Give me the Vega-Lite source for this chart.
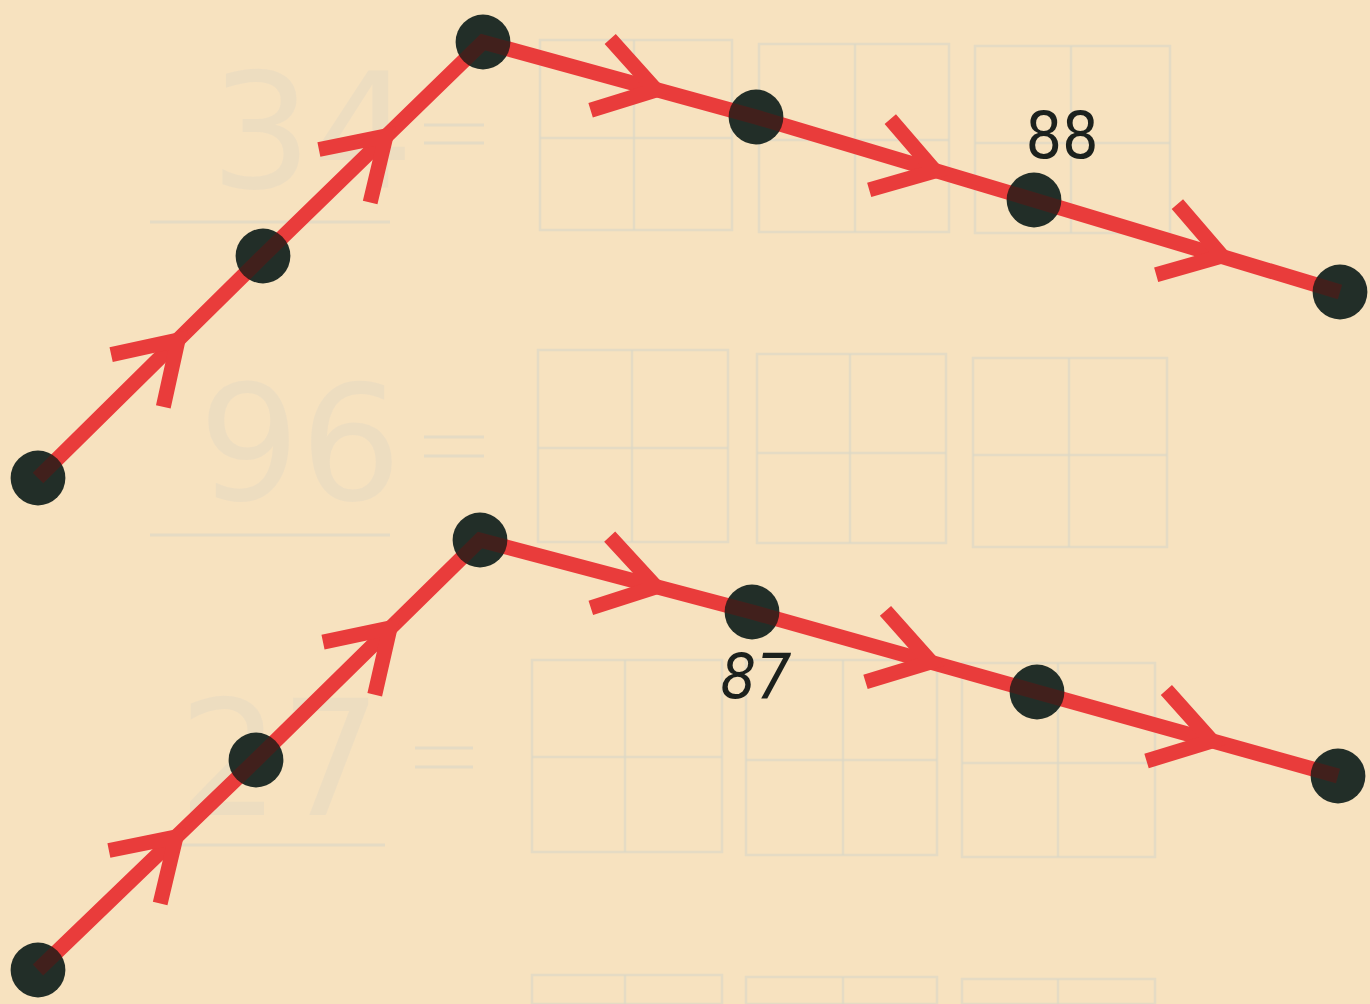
{
  "$schema": "https://vega.github.io/schema/vega-lite/v6.json",
  "width": 1370,
  "height": 1004,
  "autosize": {"type": "none"},
  "padding": 0,
  "background": "#f7e2bf",
  "config": {
    "view": {"stroke": null},
    "axis": {"domain": false}
  },
  "datasets": {
    "pts": [
      {"line": "top", "i": 0, "x": 38, "y": 478},
      {"line": "top", "i": 1, "x": 263, "y": 256},
      {"line": "top", "i": 2, "x": 483, "y": 42},
      {"line": "top", "i": 3, "x": 756, "y": 117},
      {"line": "top", "i": 4, "x": 1034, "y": 200},
      {"line": "top", "i": 5, "x": 1340, "y": 292},
      {"line": "bottom", "i": 0, "x": 38, "y": 970},
      {"line": "bottom", "i": 1, "x": 256, "y": 760},
      {"line": "bottom", "i": 2, "x": 480, "y": 540},
      {"line": "bottom", "i": 3, "x": 752, "y": 612},
      {"line": "bottom", "i": 4, "x": 1037, "y": 692},
      {"line": "bottom", "i": 5, "x": 1338, "y": 776}
    ],
    "arrows": [
      {"line": "top", "x": 178, "y": 340, "angle": 315},
      {"line": "top", "x": 386, "y": 136, "angle": 316},
      {"line": "top", "x": 656, "y": 90, "angle": 15.4},
      {"line": "top", "x": 935, "y": 171, "angle": 16.6},
      {"line": "top", "x": 1222, "y": 256, "angle": 16.7},
      {"line": "bottom", "x": 176, "y": 837, "angle": 316},
      {"line": "bottom", "x": 390, "y": 628, "angle": 315.5},
      {"line": "bottom", "x": 656, "y": 587, "angle": 14.8},
      {"line": "bottom", "x": 931, "y": 662, "angle": 15.7},
      {"line": "bottom", "x": 1212, "y": 741, "angle": 15.6}
    ],
    "label88": [
      {"text": "88", "x": 1062, "y": 158}
    ],
    "label87": [
      {"text": "87", "x": 756, "y": 698}
    ],
    "boxes": [
      {"x0": 540, "x1": 732, "y0": 40, "y1": 230, "xm": 634, "ym": 138},
      {"x0": 759, "x1": 949, "y0": 44, "y1": 232, "xm": 855, "ym": 140},
      {"x0": 975, "x1": 1170, "y0": 46, "y1": 233, "xm": 1071, "ym": 143},
      {"x0": 538, "x1": 728, "y0": 350, "y1": 542, "xm": 632, "ym": 448},
      {"x0": 757, "x1": 946, "y0": 354, "y1": 543, "xm": 850, "ym": 453},
      {"x0": 973, "x1": 1167, "y0": 358, "y1": 547, "xm": 1069, "ym": 455},
      {"x0": 532, "x1": 722, "y0": 660, "y1": 852, "xm": 625, "ym": 757},
      {"x0": 746, "x1": 937, "y0": 660, "y1": 855, "xm": 843, "ym": 760},
      {"x0": 962, "x1": 1155, "y0": 663, "y1": 857, "xm": 1058, "ym": 763}
    ],
    "partial": [
      {"x0": 532, "x1": 722, "y0": 975, "y1": 1004, "xm": 625},
      {"x0": 746, "x1": 937, "y0": 977, "y1": 1004, "xm": 843},
      {"x0": 962, "x1": 1155, "y0": 979, "y1": 1004, "xm": 1058}
    ],
    "strokes": [
      {"x0": 150, "x1": 390, "y0": 222, "y1": 222},
      {"x0": 150, "x1": 390, "y0": 535, "y1": 535},
      {"x0": 140, "x1": 385, "y0": 845, "y1": 845},
      {"x0": 424, "x1": 484, "y0": 125, "y1": 125},
      {"x0": 424, "x1": 484, "y0": 143, "y1": 143},
      {"x0": 424, "x1": 484, "y0": 437, "y1": 437},
      {"x0": 424, "x1": 484, "y0": 456, "y1": 456},
      {"x0": 415, "x1": 473, "y0": 748, "y1": 748},
      {"x0": 415, "x1": 473, "y0": 767, "y1": 767}
    ],
    "ghosts": [
      {"text": "34", "x": 312, "y": 188},
      {"text": "96", "x": 300, "y": 500},
      {"text": "27", "x": 280, "y": 815}
    ]
  },
  "layer": [
    {
      "data": {"name": "boxes"},
      "mark": {"type": "rect", "fill": null, "stroke": "#ddd8c6", "strokeWidth": 2.5, "opacity": 0.7},
      "encoding": {
        "x": {"field": "x0", "type": "quantitative", "scale": {"domain": [0, 1370], "nice": false, "zero": false}, "axis": null},
        "x2": {"field": "x1"},
        "y": {"field": "y0", "type": "quantitative", "scale": {"domain": [0, 1004], "nice": false, "zero": false, "reverse": true}, "axis": null},
        "y2": {"field": "y1"}
      }
    },
    {
      "data": {"name": "boxes"},
      "mark": {"type": "rule", "stroke": "#ddd8c6", "strokeWidth": 2.5, "opacity": 0.7},
      "encoding": {
        "x": {"field": "xm", "type": "quantitative", "scale": {"domain": [0, 1370], "nice": false, "zero": false}, "axis": null},
        "y": {"field": "y0", "type": "quantitative", "scale": {"domain": [0, 1004], "nice": false, "zero": false, "reverse": true}, "axis": null},
        "y2": {"field": "y1"}
      }
    },
    {
      "data": {"name": "boxes"},
      "mark": {"type": "rule", "stroke": "#ddd8c6", "strokeWidth": 2.5, "opacity": 0.7},
      "encoding": {
        "x": {"field": "x0", "type": "quantitative", "scale": {"domain": [0, 1370], "nice": false, "zero": false}, "axis": null},
        "x2": {"field": "x1"},
        "y": {"field": "ym", "type": "quantitative", "scale": {"domain": [0, 1004], "nice": false, "zero": false, "reverse": true}, "axis": null}
      }
    },
    {
      "data": {"name": "partial"},
      "mark": {"type": "rect", "fill": null, "stroke": "#ddd8c6", "strokeWidth": 2.5, "opacity": 0.7},
      "encoding": {
        "x": {"field": "x0", "type": "quantitative", "scale": {"domain": [0, 1370], "nice": false, "zero": false}, "axis": null},
        "x2": {"field": "x1"},
        "y": {"field": "y0", "type": "quantitative", "scale": {"domain": [0, 1004], "nice": false, "zero": false, "reverse": true}, "axis": null},
        "y2": {"field": "y1"}
      }
    },
    {
      "data": {"name": "partial"},
      "mark": {"type": "rule", "stroke": "#ddd8c6", "strokeWidth": 2.5, "opacity": 0.7},
      "encoding": {
        "x": {"field": "xm", "type": "quantitative", "scale": {"domain": [0, 1370], "nice": false, "zero": false}, "axis": null},
        "y": {"field": "y0", "type": "quantitative", "scale": {"domain": [0, 1004], "nice": false, "zero": false, "reverse": true}, "axis": null},
        "y2": {"field": "y1"}
      }
    },
    {
      "data": {"name": "strokes"},
      "mark": {"type": "rule", "stroke": "#ddd8c6", "strokeWidth": 3, "opacity": 0.7},
      "encoding": {
        "x": {"field": "x0", "type": "quantitative", "scale": {"domain": [0, 1370], "nice": false, "zero": false}, "axis": null},
        "x2": {"field": "x1"},
        "y": {"field": "y0", "type": "quantitative", "scale": {"domain": [0, 1004], "nice": false, "zero": false, "reverse": true}, "axis": null},
        "y2": {"field": "y1"}
      }
    },
    {
      "data": {"name": "ghosts"},
      "mark": {"type": "text", "font": "DejaVu Sans", "fontSize": 160, "align": "center", "baseline": "alphabetic", "fill": "#e3d8c3", "opacity": 0.45},
      "encoding": {
        "x": {"field": "x", "type": "quantitative", "scale": {"domain": [0, 1370], "nice": false, "zero": false}, "axis": null},
        "y": {"field": "y", "type": "quantitative", "scale": {"domain": [0, 1004], "nice": false, "zero": false, "reverse": true}, "axis": null},
        "text": {"field": "text"}
      }
    },
    {
      "data": {"name": "pts"},
      "mark": {"type": "line", "color": "#e93c3b", "strokeWidth": 15, "strokeCap": "butt", "strokeJoin": "miter"},
      "encoding": {
        "x": {"field": "x", "type": "quantitative", "scale": {"domain": [0, 1370], "nice": false, "zero": false}, "axis": null},
        "y": {"field": "y", "type": "quantitative", "scale": {"domain": [0, 1004], "nice": false, "zero": false, "reverse": true}, "axis": null},
        "detail": {"field": "line"},
        "order": {"field": "i"}
      }
    },
    {
      "data": {"name": "arrows"},
      "mark": {"type": "point", "shape": "M-1,-0.64L0,0L-1,0.64", "size": 13300, "filled": false, "stroke": "#e93c3b", "strokeWidth": 15, "strokeCap": "butt", "strokeJoin": "miter", "opacity": 1},
      "encoding": {
        "x": {"field": "x", "type": "quantitative", "scale": {"domain": [0, 1370], "nice": false, "zero": false}, "axis": null},
        "y": {"field": "y", "type": "quantitative", "scale": {"domain": [0, 1004], "nice": false, "zero": false, "reverse": true}, "axis": null},
        "angle": {"field": "angle", "type": "quantitative", "scale": null}
      }
    },
    {
      "data": {"name": "pts"},
      "mark": {"type": "circle", "size": 3000, "color": "#222e28", "opacity": 1},
      "encoding": {
        "x": {"field": "x", "type": "quantitative", "scale": {"domain": [0, 1370], "nice": false, "zero": false}, "axis": null},
        "y": {"field": "y", "type": "quantitative", "scale": {"domain": [0, 1004], "nice": false, "zero": false, "reverse": true}, "axis": null}
      }
    },
    {
      "data": {"name": "pts"},
      "mark": {"type": "line", "color": "#e93c3b", "strokeWidth": 15, "strokeCap": "butt", "strokeJoin": "miter", "blend": "color", "opacity": 0.3},
      "encoding": {
        "x": {"field": "x", "type": "quantitative", "scale": {"domain": [0, 1370], "nice": false, "zero": false}, "axis": null},
        "y": {"field": "y", "type": "quantitative", "scale": {"domain": [0, 1004], "nice": false, "zero": false, "reverse": true}, "axis": null},
        "detail": {"field": "line"},
        "order": {"field": "i"}
      }
    },
    {
      "data": {"name": "label88"},
      "mark": {"type": "text", "font": "DejaVu Sans Condensed", "fontSize": 64, "align": "center", "baseline": "alphabetic", "fill": "#1c211d"},
      "encoding": {
        "x": {"field": "x", "type": "quantitative", "scale": {"domain": [0, 1370], "nice": false, "zero": false}, "axis": null},
        "y": {"field": "y", "type": "quantitative", "scale": {"domain": [0, 1004], "nice": false, "zero": false, "reverse": true}, "axis": null},
        "text": {"field": "text"}
      }
    },
    {
      "data": {"name": "label87"},
      "mark": {"type": "text", "font": "DejaVu Sans Condensed", "fontSize": 62, "fontStyle": "italic", "align": "center", "baseline": "alphabetic", "fill": "#1c211d"},
      "encoding": {
        "x": {"field": "x", "type": "quantitative", "scale": {"domain": [0, 1370], "nice": false, "zero": false}, "axis": null},
        "y": {"field": "y", "type": "quantitative", "scale": {"domain": [0, 1004], "nice": false, "zero": false, "reverse": true}, "axis": null},
        "text": {"field": "text"}
      }
    }
  ]
}
